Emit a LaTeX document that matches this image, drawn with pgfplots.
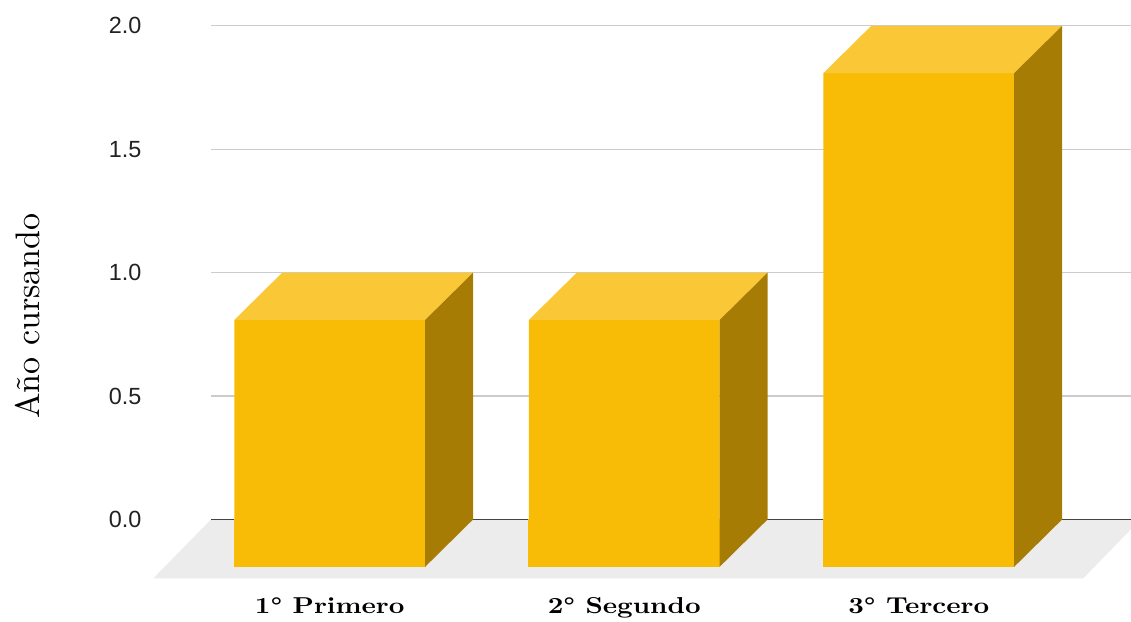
\documentclass[border=0pt]{standalone}
\usepackage{fontspec}
\usepackage{pgfplots}
\usepackage{pgfplotstable}
\pgfplotsset{compat=1.18}
\newfontfamily\ticksans{Liberation Sans}
\definecolor{barfront}{HTML}{F9BC06}
\definecolor{bartop}{HTML}{FAC836}
\definecolor{barside}{HTML}{A67C04}
\definecolor{floorgray}{HTML}{ECECEC}
\definecolor{gridgray}{HTML}{CCCCCC}
\definecolor{zeroline}{HTML}{444444}
\definecolor{ticktext}{HTML}{222222}

% category position (front face centre) and value
\pgfplotstableread{
x v
0 1
1 1
2 2
}\datatable
\def\dy{0.192}

\begin{document}
\begin{tikzpicture}
\begin{axis}[
  set layers,
  x=147.25pt, y=123.4pt,
  xmin=-0.403, xmax=2.721, ymin=-0.2386, ymax=2.0,
  clip=false,
  axis line style={draw=none},
  major tick length=0pt,
  ymajorgrids,
  grid style={color=gridgray, line width=0.6pt},
  ytick={0.5,1,1.5,2},
  yticklabels={0.5,1.0,1.5,2.0},
  extra y ticks={0},
  extra y tick labels={0.0},
  extra y tick style={grid style={color=zeroline, line width=0.75pt}},
  /pgf/number format/assume math mode=true,
  yticklabel style={font=\fontsize{11.7}{14}\selectfont\ticksans, text=ticktext, anchor=east, inner sep=0pt, xshift=-34.6pt},
  xtick={0,1,2},
  xticklabels={1° Primero, 2° Segundo, 3° Tercero},
  xticklabel style={font=\fontsize{10}{12}\selectfont\bfseries, text=black, anchor=base, inner sep=0pt, yshift=-17.5pt, xscale=1.36, yscale=1.15},
  ylabel={Año cursando},
  every axis y label/.style={at={(axis description cs:-0.1859,0.4747)}, anchor=base, rotate=90, inner sep=0pt, font=\fontsize{10}{12}\selectfont, scale=1.7},
]
% floor
\addplot[on layer=axis background, fill=floorgray, draw=none]
  coordinates {(-0.403,0) (2.753,0) (2.559,-0.2386) (-0.599,-0.2386)};

% front faces (from the data table)
\addplot[ybar, bar width=0.648, bar shift=0pt, fill=barfront, draw=none]
  table[x=x, y expr=\thisrow{v}-\dy] {\datatable};
\addplot[ybar, bar width=0.648, bar shift=0pt, fill=barfront, draw=barfront, line width=0.4pt]
  table[x=x, y expr=-\dy] {\datatable};

% top faces
\addplot[fill=bartop, draw=none] coordinates {(-0.324,0.808) (0.324,0.808) (0.487,1) (-0.161,1)};
\addplot[fill=bartop, draw=none] coordinates {(0.676,0.808) (1.324,0.808) (1.487,1) (0.839,1)};
\addplot[fill=bartop, draw=none] coordinates {(1.676,1.808) (2.324,1.808) (2.487,2) (1.839,2)};

% side faces
\addplot[fill=barside, draw=none] coordinates {(0.324,-0.192) (0.487,0) (0.487,1) (0.324,0.808)};
\addplot[fill=barside, draw=none] coordinates {(1.324,-0.192) (1.487,0) (1.487,1) (1.324,0.808)};
\addplot[fill=barside, draw=none] coordinates {(2.324,-0.192) (2.487,0) (2.487,2) (2.324,1.808)};

\coordinate (BL) at (axis cs:-1.1195,-0.4117);
\coordinate (TR) at (axis cs:2.7208,2.1045);
\end{axis}
\pgfresetboundingbox
\path[use as bounding box] (BL) rectangle (TR);
\end{tikzpicture}
\end{document}
